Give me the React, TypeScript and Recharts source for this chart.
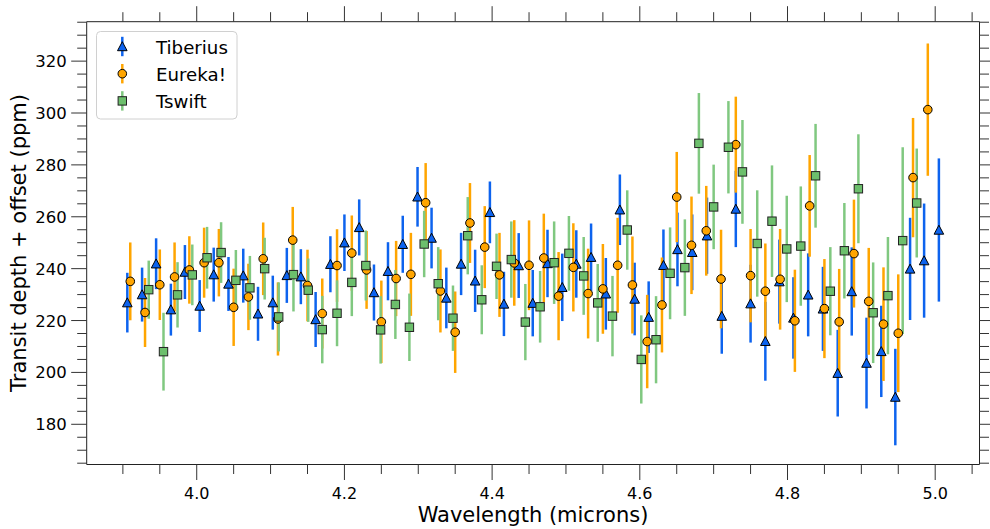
import { ComposedChart, ErrorBar, Scatter, XAxis, YAxis } from 'recharts'

const FONT = '"DejaVu Sans", sans-serif'

// wavelength (microns), depth (ppm), 1-sigma error (ppm) per reduction
const tiberiusWave = [3.906, 3.926, 3.945, 3.965, 3.984, 4.004, 4.023, 4.043, 4.063, 4.083, 4.103, 4.122, 4.141, 4.161, 4.181, 4.2, 4.22, 4.24, 4.259, 4.279, 4.299, 4.318, 4.338, 4.358, 4.377, 4.397, 4.416, 4.436, 4.455, 4.475, 4.495, 4.514, 4.534, 4.554, 4.573, 4.593, 4.612, 4.632, 4.651, 4.671, 4.691, 4.711, 4.73, 4.75, 4.77, 4.789, 4.808, 4.828, 4.848, 4.868, 4.887, 4.907, 4.927, 4.946, 4.966, 4.985, 5.005]
const tiberiusDepth = [226.9, 230.0, 241.9, 224.2, 238.7, 225.6, 237.7, 234.1, 237.3, 222.6, 226.9, 237.4, 236.9, 220.4, 241.7, 250.0, 255.9, 230.8, 239.0, 249.4, 267.7, 251.8, 228.7, 241.8, 235.3, 261.7, 226.4, 241.2, 226.7, 242.0, 232.8, 241.8, 244.4, 230.3, 262.7, 228.3, 221.3, 241.3, 247.4, 246.3, 252.7, 221.7, 263.0, 226.5, 212.0, 235.0, 221.0, 229.9, 224.5, 199.7, 231.2, 203.6, 208.1, 190.5, 239.9, 243.1, 254.9]
const tiberiusErr = [11.5, 10.4, 9.8, 10.0, 10.4, 10.0, 10.4, 10.4, 10.4, 10.4, 10.4, 10.6, 10.6, 10.6, 10.8, 10.9, 10.8, 10.8, 11.2, 11.0, 11.5, 11.7, 11.7, 12.0, 12.0, 11.9, 12.4, 12.5, 12.8, 13.0, 13.0, 13.0, 13.0, 13.8, 13.6, 14.0, 13.8, 13.8, 14.2, 14.6, 14.7, 14.5, 14.7, 15.0, 15.2, 16.2, 15.7, 16.0, 16.2, 16.7, 17.0, 17.5, 17.6, 18.6, 19.7, 22.0, 27.6]

const eurekaWave = [3.91, 3.93, 3.95, 3.97, 3.99, 4.01, 4.03, 4.05, 4.07, 4.09, 4.11, 4.13, 4.15, 4.17, 4.19, 4.21, 4.23, 4.25, 4.27, 4.29, 4.31, 4.33, 4.35, 4.37, 4.39, 4.41, 4.43, 4.45, 4.47, 4.49, 4.51, 4.53, 4.55, 4.57, 4.59, 4.61, 4.63, 4.65, 4.67, 4.69, 4.71, 4.73, 4.75, 4.77, 4.79, 4.81, 4.83, 4.85, 4.87, 4.89, 4.91, 4.93, 4.95, 4.97, 4.99]
const eurekaDepth = [235.1, 223.1, 233.8, 236.8, 239.5, 242.3, 242.3, 225.1, 229.1, 243.8, 220.6, 251.0, 233.5, 222.7, 241.2, 246.0, 239.5, 219.5, 236.2, 237.8, 265.4, 231.4, 215.5, 257.6, 248.3, 237.6, 242.2, 241.3, 244.1, 229.4, 240.5, 230.4, 232.2, 241.3, 233.7, 211.9, 226.0, 267.6, 249.0, 254.6, 236.0, 287.8, 237.3, 231.3, 235.9, 219.9, 264.2, 224.6, 219.5, 245.8, 227.4, 218.6, 215.1, 275.1, 301.3]
const eurekaErr = [15.0, 13.3, 13.6, 13.3, 13.0, 13.5, 13.0, 14.9, 12.8, 14.0, 14.1, 12.8, 13.8, 13.5, 14.0, 14.5, 15.0, 15.9, 14.5, 16.0, 15.3, 16.0, 15.7, 15.4, 15.8, 16.2, 16.5, 17.3, 17.1, 17.0, 17.0, 17.3, 17.3, 18.3, 18.7, 18.0, 18.3, 17.4, 18.8, 17.3, 19.0, 18.5, 18.0, 18.4, 19.4, 19.7, 19.6, 19.1, 20.4, 20.8, 20.6, 21.9, 22.7, 23.0, 25.5]

const tswiftWave = [3.935, 3.955, 3.974, 3.994, 4.014, 4.033, 4.053, 4.072, 4.092, 4.111, 4.131, 4.151, 4.17, 4.19, 4.21, 4.229, 4.249, 4.269, 4.288, 4.308, 4.327, 4.347, 4.367, 4.386, 4.406, 4.426, 4.445, 4.465, 4.484, 4.504, 4.524, 4.543, 4.563, 4.583, 4.602, 4.622, 4.641, 4.661, 4.68, 4.7, 4.72, 4.739, 4.759, 4.779, 4.799, 4.818, 4.838, 4.858, 4.877, 4.896, 4.916, 4.936, 4.956, 4.975]
const tswiftDepth = [231.9, 208.0, 229.9, 237.6, 244.2, 246.2, 235.5, 232.6, 240.0, 221.4, 237.7, 231.7, 216.5, 222.8, 234.7, 241.2, 216.4, 226.2, 217.4, 249.5, 234.2, 220.9, 252.7, 228.0, 240.9, 243.5, 219.4, 225.3, 242.3, 245.9, 237.2, 226.8, 221.7, 254.9, 205.0, 212.6, 238.2, 240.4, 288.3, 263.8, 286.8, 277.3, 249.7, 258.3, 247.6, 248.7, 275.8, 231.3, 246.9, 270.8, 223.0, 229.6, 250.8, 265.3]
const tswiftErr = [11.2, 15.0, 12.6, 11.7, 11.9, 11.7, 11.7, 12.3, 11.9, 13.3, 14.2, 12.2, 13.0, 12.7, 13.0, 13.5, 13.0, 13.3, 13.0, 12.8, 14.1, 12.6, 14.9, 13.3, 12.6, 14.7, 14.7, 13.8, 15.9, 14.4, 15.0, 15.0, 15.5, 15.3, 17.0, 16.8, 17.7, 18.6, 19.4, 16.3, 17.8, 20.0, 20.5, 21.5, 20.5, 23.0, 20.0, 17.0, 18.4, 21.0, 19.4, 22.6, 36.0, 21.0]

const xTicks = [3.9, 3.95, 4.0, 4.05, 4.1, 4.15, 4.2, 4.25, 4.3, 4.35, 4.4, 4.45, 4.5, 4.55, 4.6, 4.65, 4.7, 4.75, 4.8, 4.85, 4.9, 4.95, 5.0, 5.05]
const xMajorTicks = [4.0, 4.2, 4.4, 4.6, 4.8, 5.0]
const yTicks = [165, 170, 175, 180, 185, 190, 195, 200, 205, 210, 215, 220, 225, 230, 235, 240, 245, 250, 255, 260, 265, 270, 275, 280, 285, 290, 295, 300, 305, 310, 315, 320, 325, 330, 335]
const yMajorTicks = [180, 200, 220, 240, 260, 280, 300, 320]

const toRows = (wave: number[], depth: number[], err: number[]) =>
  wave.map((x, i) => ({ x, y: depth[i], err: err[i] }))

const tiberius = toRows(tiberiusWave, tiberiusDepth, tiberiusErr)
const eureka = toRows(eurekaWave, eurekaDepth, eurekaErr)
const tswift = toRows(tswiftWave, tswiftDepth, tswiftErr)

const BLUE = '#0d63ee'
const ORANGE = '#ffa500'
const GREEN = '#6cbf6c'
const GREEN_BAR = '#80c880'
const TICK = '#333'
const MAJOR = 15.5
const MINOR = 9.5

const isIn = (list: number[], v: number) => list.some((m) => Math.abs(m - v) < 1e-6)

function Triangle({ cx, cy, fill }: any) {
  return (
    <polygon
      points={`${cx},${cy - 4.8} ${cx - 4.8},${cy + 4.2} ${cx + 4.8},${cy + 4.2}`}
      fill={fill}
      stroke="#000"
      strokeWidth={1}
    />
  )
}

function Dot({ cx, cy, fill }: any) {
  return <circle cx={cx} cy={cy} r={4.3} fill={fill} stroke="#000" strokeWidth={1} />
}

function Square({ cx, cy, fill }: any) {
  return <rect x={cx - 4.2} y={cy - 4.2} width={8.4} height={8.4} fill={fill} stroke="#222" strokeWidth={1} />
}

function BottomTick({ x, y, payload }: any) {
  const major = isIn(xMajorTicks, payload.value)
  return (
    <g>
      <line x1={x} x2={x} y1={y} y2={y + (major ? MAJOR : MINOR)} stroke={TICK} strokeWidth={1} />
      {major && (
        <text x={x} y={y + 34.5} textAnchor="middle" fontSize={16} fontFamily={FONT} fill="#000">
          {payload.value.toFixed(1)}
        </text>
      )}
    </g>
  )
}

function TopTick({ x, y, payload }: any) {
  const major = isIn(xMajorTicks, payload.value)
  return <line x1={x} x2={x} y1={y} y2={y - (major ? MAJOR : MINOR)} stroke={TICK} strokeWidth={1} />
}

function LeftTick({ x, y, payload }: any) {
  const major = isIn(yMajorTicks, payload.value)
  return (
    <g>
      <line x1={x} x2={x - (major ? MAJOR : MINOR)} y1={y} y2={y} stroke={TICK} strokeWidth={1} />
      {major && (
        <text x={x - 20} y={y + 6} textAnchor="end" fontSize={16.5} fontFamily={FONT} fill="#000">
          {payload.value}
        </text>
      )}
    </g>
  )
}

function RightTick({ x, y, payload }: any) {
  const major = isIn(yMajorTicks, payload.value)
  return <line x1={x} x2={x + (major ? MAJOR : MINOR)} y1={y} y2={y} stroke={TICK} strokeWidth={1} />
}

const legendItems = [
  { name: 'Tiberius', color: BLUE, bar: BLUE, Marker: Triangle },
  { name: 'Eureka!', color: ORANGE, bar: ORANGE, Marker: Dot },
  { name: 'Tswift', color: GREEN, bar: GREEN_BAR, Marker: Square },
]

function Overlay() {
  return (
    <svg
      width={990}
      height={529}
      style={{ position: 'absolute', left: 0, top: 0, pointerEvents: 'none' }}
    >
      <rect x={96.5} y={31.5} width={140.5} height={87.5} rx={4} fill="#fff" fillOpacity={0.8} stroke="#d0d0d0" strokeWidth={1} />
      {legendItems.map((item, i) => {
        const cy = 46.5 + i * 27.2
        const M = item.Marker
        return (
          <g key={item.name}>
            <line x1={122.3} x2={122.3} y1={cy - 9.7} y2={cy + 9.7} stroke={item.bar} strokeWidth={2.5} />
            <M cx={122.3} cy={cy} fill={item.color} />
            <text x={156} y={cy + 7} fontSize={18.2} fontFamily={FONT} fill="#000">
              {item.name}
            </text>
          </g>
        )
      })}
      <text x={533} y={521.5} textAnchor="middle" fontSize={21} fontFamily={FONT} fill="#000">
        Wavelength (microns)
      </text>
      <text
        x={25.5}
        y={243}
        transform="rotate(-90 25.5 243)"
        textAnchor="middle"
        fontSize={21}
        fontFamily={FONT}
        fill="#000"
      >
        Transit depth + offset (ppm)
      </text>
    </svg>
  )
}

export default function App() {
  const xDomain = [3.851, 5.06]
  const yDomain = [164.5, 335.2]
  const axisLine = { stroke: '#222', strokeWidth: 1 }
  return (
    <div style={{ position: 'absolute', left: 0, top: 0, width: 990, height: 529, background: '#fff' }}>
      {/* top/right axes get 1px of room: a zero-size axis is not drawn */}
      <ComposedChart width={990} height={529} margin={{ top: 20.7, right: 9.5, bottom: 4.5, left: 26.7 }}>
        <XAxis
          dataKey="x"
          type="number"
          domain={xDomain}
          allowDataOverflow
          ticks={xTicks}
          interval={0}
          height={60}
          tickSize={0}
          tickMargin={0}
          tickLine={false}
          axisLine={axisLine}
          tick={<BottomTick />}
        />
        <XAxis
          xAxisId="top"
          dataKey="x"
          orientation="top"
          type="number"
          domain={xDomain}
          allowDataOverflow
          ticks={xTicks}
          interval={0}
          height={1}
          tickSize={0}
          tickMargin={0}
          tickLine={false}
          axisLine={axisLine}
          tick={<TopTick />}
        />
        <YAxis
          dataKey="y"
          type="number"
          domain={yDomain}
          allowDataOverflow
          ticks={yTicks}
          interval={0}
          width={60}
          tickSize={0}
          tickMargin={0}
          tickLine={false}
          axisLine={axisLine}
          tick={<LeftTick />}
        />
        <YAxis
          yAxisId="right"
          dataKey="y"
          orientation="right"
          type="number"
          domain={yDomain}
          allowDataOverflow
          ticks={yTicks}
          interval={0}
          width={1}
          tickSize={0}
          tickMargin={0}
          tickLine={false}
          axisLine={axisLine}
          tick={<RightTick />}
        />
        {/* invisible series so the mirrored top/right axes have data and draw their ticks */}
        <Scatter
          data={tiberius}
          xAxisId="top"
          yAxisId="right"
          legendType="none"
          isAnimationActive={false}
          shape={() => <g />}
        />
        <Scatter name="Tiberius" data={tiberius} isAnimationActive={false} shape={(p: any) => <Triangle cx={p.cx} cy={p.cy} fill={BLUE} />}>
          <ErrorBar dataKey="err" direction="y" width={0} stroke={BLUE} strokeWidth={2.5} isAnimationActive={false} />
        </Scatter>
        <Scatter name="Eureka!" data={eureka} isAnimationActive={false} shape={(p: any) => <Dot cx={p.cx} cy={p.cy} fill={ORANGE} />}>
          <ErrorBar dataKey="err" direction="y" width={0} stroke={ORANGE} strokeWidth={2.5} isAnimationActive={false} />
        </Scatter>
        <Scatter name="Tswift" data={tswift} isAnimationActive={false} shape={(p: any) => <Square cx={p.cx} cy={p.cy} fill={GREEN} />}>
          <ErrorBar dataKey="err" direction="y" width={0} stroke={GREEN_BAR} strokeWidth={2.5} isAnimationActive={false} />
        </Scatter>
      </ComposedChart>
      <Overlay />
    </div>
  )
}
